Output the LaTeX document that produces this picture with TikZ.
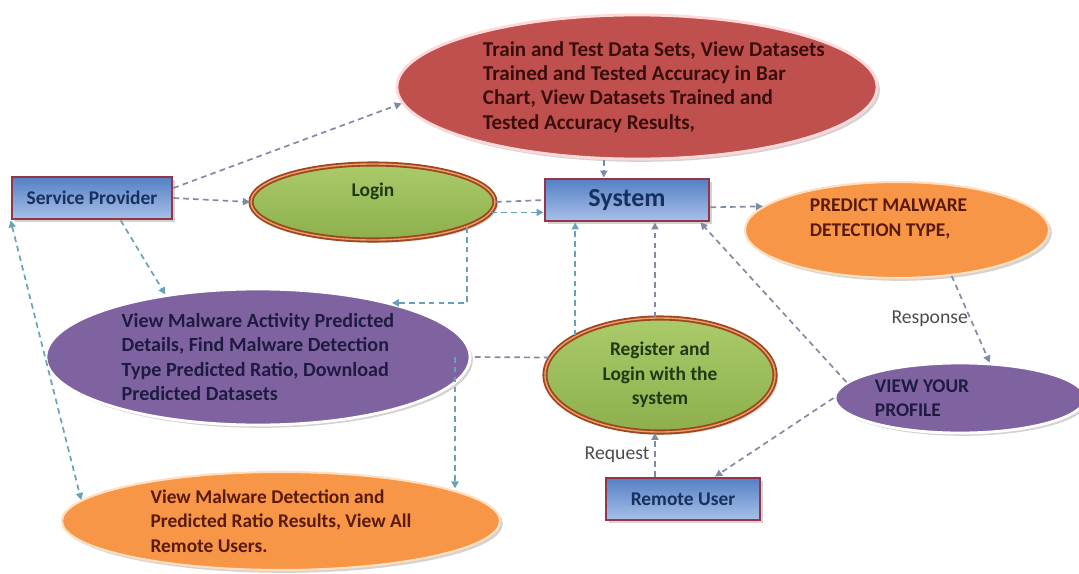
\documentclass[tikz,border=0pt]{standalone}
\usepackage{fontspec}
\setmainfont{Carlito}
\usetikzlibrary{arrows.meta,shapes.geometric,shadows}
\tikzset{>/.tip={Triangle[length=5pt,width=5pt]}}
\definecolor{boxline}{HTML}{953549}
\definecolor{boxtop}{HTML}{5580C4}
\definecolor{boxbot}{HTML}{A7C0E8}
\definecolor{boxtext}{HTML}{17305E}
\definecolor{redfill}{HTML}{C0504D}
\definecolor{redtext}{HTML}{3A0E0D}
\definecolor{greentop}{HTML}{ABCB6A}
\definecolor{greenbot}{HTML}{8DAF4C}
\definecolor{greentext}{HTML}{1F3A14}
\definecolor{ring}{HTML}{A0461E}
\definecolor{ringin}{HTML}{E9A06A}
\definecolor{purplefill}{HTML}{7F63A1}
\definecolor{purpletext}{HTML}{1E1A40}
\definecolor{orangefill}{HTML}{F79646}
\definecolor{orangetext}{HTML}{5A1A0B}
\definecolor{tealline}{HTML}{66A3BA}
\definecolor{greyline}{HTML}{808BA3}
\def\ind{\hspace*{24pt}}

\begin{document}
\begin{tikzpicture}[x=0.025cm,y=-0.025cm,
    font=\bfseries\fontsize{13.8}{17.4}\selectfont,
    shade/.style={drop shadow={opacity=.35,shadow xshift=2pt,shadow yshift=-2pt}},
    box/.style={rectangle,draw=boxline,line width=2pt,top color=boxtop,bottom color=boxbot,
      text=boxtext,minimum height=1.05cm,shade},
    oval/.style={ellipse,inner sep=0pt,align=left,shade},
    greenoval/.style={oval,draw=ring,double=ringin,double distance=1pt,line width=1.3pt,
      top color=greentop,bottom color=greenbot,text=greentext,align=center},
    flow/.style={dashed,dash pattern=on 4pt off 3pt,line width=1.2pt,draw=greyline},
    tflow/.style={flow,draw=tealline},
    lbl/.style={font=\fontsize{14}{16}\selectfont,text=black!70}]
  \useasboundingbox (0,0) rectangle (1079,573);
  % actors and system
  \node(sp)[box,minimum width=4cm] at (92,198) {Service Provider};
  \node(system)[box,minimum width=4.1cm,font=\bfseries\fontsize{18.5}{20}\selectfont] at (627,200) {System};
  \node(remote)[box,minimum width=3.85cm] at (683,499) {Remote User};
  % tasks
  \node(train)[oval,fill=redfill,draw=red!15,line width=2pt,text=redtext,inner xsep=-16pt,
    minimum width=12cm,minimum height=3.6cm,font=\bfseries\fontsize{15}{17.4}\selectfont] at (637,87)
    {\ind Train and Test Data Sets, View Datasets\\\ind Trained and Tested Accuracy in Bar\\
     \ind Chart, View Datasets Trained and\\\ind Tested Accuracy Results,};
  \node(login)[greenoval,minimum width=6.1cm,minimum height=1.9cm] at (373,202) {Login\\ \mbox{}};
  \node(predict)[oval,fill=orangefill,draw=orange!25,line width=1.5pt,text=orangetext,
    minimum width=7.6cm,minimum height=2.4cm] at (897,230)
    {PREDICT MALWARE\hspace*{12pt}\\DETECTION TYPE,\\ \mbox{}};
  \node(activity)[oval,fill=purplefill,draw=white,line width=2pt,text=purpletext,
    minimum width=10.6cm,minimum height=3.4cm,font=\bfseries\fontsize{14.3}{17.4}\selectfont] at (258,357)
    {View Malware Activity Predicted\\Details, Find Malware Detection\\
     Type Predicted Ratio, Download\\Predicted Datasets};
  \node(register)[greenoval,minimum width=5.75cm,minimum height=2.85cm] at (660,375)
    {Register and\\Login with the\\system};
  \node(profile)[oval,fill=purplefill,draw=white,line width=2pt,text=purpletext,
    minimum width=6.25cm,minimum height=1.75cm] at (960,398) {VIEW YOUR\hspace*{54pt}\\PROFILE};
  \node(results)[oval,fill=orangefill,draw=orange!25,line width=1.5pt,text=orangetext,
    minimum width=10.95cm,minimum height=2.45cm] at (281,521)
    {View Malware Detection and\\Predicted Ratio Results, View All\hspace*{28pt}\\Remote Users.};
  \coordinate(split) at (455,357);
  % flows
  \draw[flow,->] (sp.7) -- (train.184);
  \draw[flow,->] (sp.east) -- (login.west);
  \draw[flow] (login.east) -- (system.west);
  \draw[tflow,->] (login.-5) -- (login.-5 -| system.west);
  \draw[tflow,->] (login.-15) |- (activity.22);
  \draw[tflow,->] (sp.-38) -- (activity.146);
  \draw[tflow,<->] (sp.south west) -- (results.174);
  \draw[flow] (register.171) -- (activity.east);
  \draw[tflow,->] (split) -- (split |- results.11);
  \draw[tflow,->] (register.155) -- (register.155 |- system.south);
  \draw[flow,->] (register.95) -- (register.95 |- system.south);
  \draw[flow,->] (register.265 |- remote.north) -- node[lbl,left]{Request} (register.265);
  \draw[flow,->] (profile.west) -- (remote.35);
  \draw[flow,->] (profile.172) -- (system.-17);
  \draw[flow,->] (system.136 |- train.south) -- (system.136);
  \draw[flow,->] (system.-5) -- (predict.170);
  \draw[flow,->] (predict.-40) -- node[lbl,left=-2pt]{Response} (profile.50);
\end{tikzpicture}
\end{document}
